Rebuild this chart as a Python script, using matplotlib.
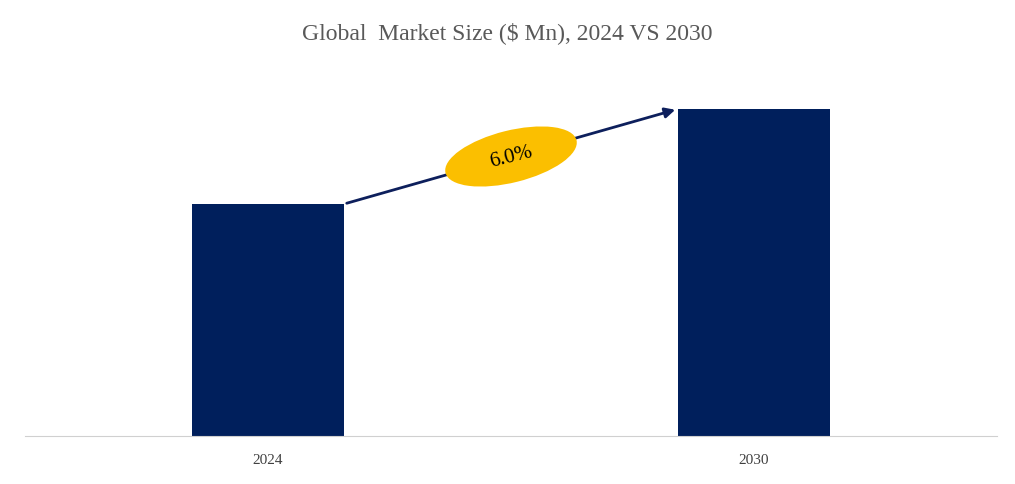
import matplotlib
matplotlib.use("Agg")
import matplotlib.pyplot as plt
from matplotlib.patches import Ellipse

years = ["2024", "2030"]
values = [232, 327]
cagr_label = "6.0%"

plt.rcParams['font.family'] = ['Liberation Serif', 'DejaVu Serif']
fig = plt.figure(figsize=(10.15, 4.85), dpi=100)
ax = fig.add_axes([25/1015, 48/485, 972/1015, 357/485])
x = [0, 1]
bar_w = 0.313
ax.bar(x, values, width=bar_w, color="#001f5c")
ax.set_xlim(-0.5, 1.5)
ax.set_ylim(0, 357)
ax.set_xticks(x)
ax.set_xticklabels(years, fontsize=11, color="#404040")
ax.set_yticks([])
for s in ["top", "right", "left"]:
    ax.spines[s].set_visible(False)
ax.spines["bottom"].set_color("#d0d0d0")
ax.tick_params(axis="x", length=0, pad=12)

x0, y0 = x[0] + bar_w/2, values[0]
x1, y1 = x[1] - bar_w/2, values[1]
ax.annotate("", xy=(x1, y1), xytext=(x0, y0),
            arrowprops=dict(arrowstyle="-|>", color="#0d1f5c", lw=2, mutation_scale=15))
# ellipse in display-consistent coordinates
cx = (x0 + x1) / 2 * 1 - 0.0
cx = x0 + (x1 - x0) * 0.5
cy = y0 + (y1 - y0) * 0.5
px_x = 972 / 2.0  # pixels per x unit
px_y = 357 / 357.0
e = Ellipse((cx, cy), width=135/px_x, height=52/px_y, angle=0,
            facecolor="#fbbf00", edgecolor="none", zorder=3)
from matplotlib.transforms import Affine2D
# rotate in pixel space
ax.add_patch(e)
e.set_transform(Affine2D().scale(135/2, 52/2).rotate_deg(14).translate(*ax.transData.transform((cx, cy))) + Affine2D())
e.set_center((0, 0)); e.width = 2; e.height = 2
e.set_transform(Affine2D().scale(135/2, 52/2).rotate_deg(14) + Affine2D().translate(*ax.transData.transform((cx, cy))))
ax.text(cx, cy, cagr_label, ha="center", va="center", fontsize=15, rotation=14, color="black", zorder=4)

fig.text(0.5, 1 - 33/485, "Global  Market Size ($ Mn), 2024 VS 2030", ha="center", va="center",
         fontsize=17, color="#595959")
fig.savefig("out.png", dpi=100)
